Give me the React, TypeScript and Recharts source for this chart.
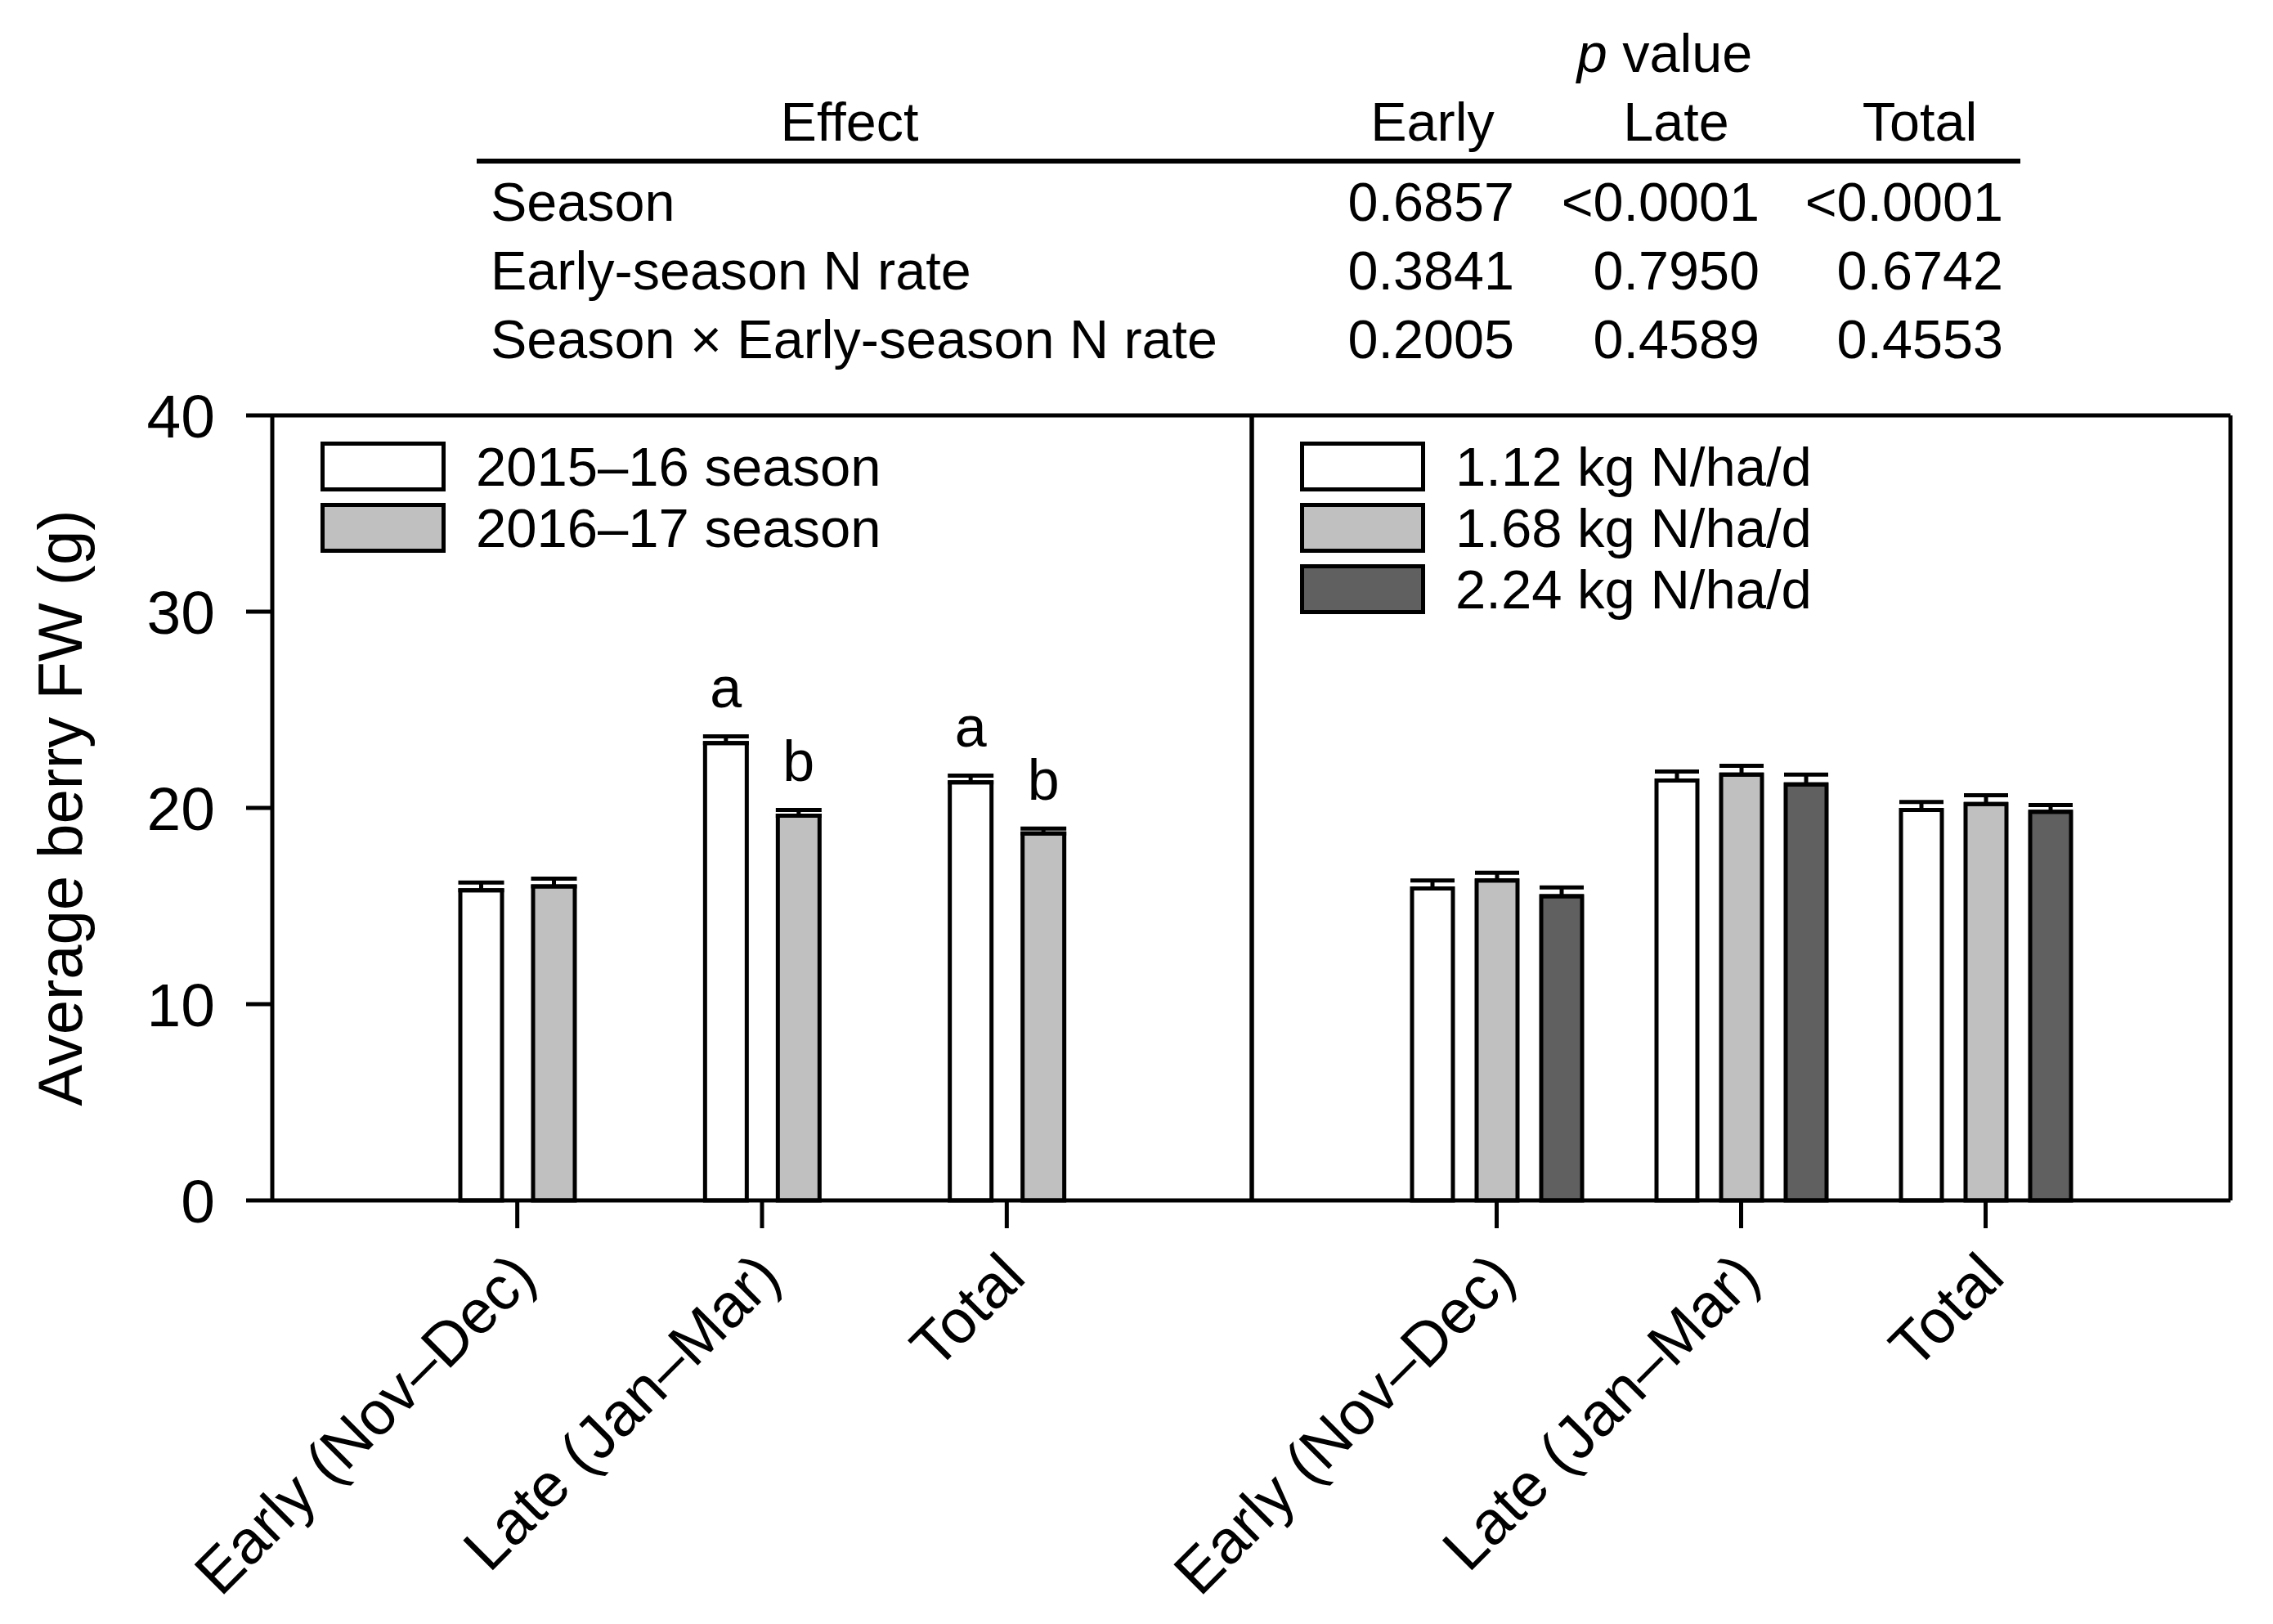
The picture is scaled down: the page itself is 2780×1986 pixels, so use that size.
import React from "react";
import {
  BarChart,
  Bar,
  XAxis,
  YAxis,
  ErrorBar,
  LabelList,
  ReferenceLine,
} from "recharts";

const FONT = '"Liberation Sans", Arial, Helvetica, sans-serif';

// categories on both panels
const categories = ["Early (Nov–Dec)", "Late (Jan–Mar)", "Total"];
const yTicks = [0, 10, 20, 30, 40];

// left panel: season means and SE
const season1516 = [15.8, 23.3, 21.3];
const season1516Err = [0.4, 0.35, 0.35];
const season1617 = [16.0, 19.6, 18.7];
const season1617Err = [0.4, 0.3, 0.25];
const letters1516 = ["", "a", "a"];
const letters1617 = ["", "b", "b"];

// right panel: early-season N rate means and SE
const rate112 = [15.9, 21.4, 19.9];
const rate112Err = [0.4, 0.45, 0.4];
const rate168 = [16.3, 21.7, 20.2];
const rate168Err = [0.4, 0.45, 0.45];
const rate224 = [15.5, 21.2, 19.8];
const rate224Err = [0.45, 0.5, 0.35];

// ANOVA table
const effects = ["Season", "Early-season N rate", "Season × Early-season N rate"];
const pEarly = ["0.6857", "0.3841", "0.2005"];
const pLate = ["<0.0001", "0.7950", "0.4589"];
const pTotal = ["<0.0001", "0.6742", "0.4553"];
const pColumns = ["Early", "Late", "Total"];

const leftData = categories.map((cat, i) => ({
  cat,
  s1516: season1516[i],
  s1516Err: [0, season1516Err[i]],
  s1617: season1617[i],
  s1617Err: [0, season1617Err[i]],
}));

const rightData = categories.map((cat, i) => ({
  cat,
  r112: rate112[i],
  r112Err: [0, rate112Err[i]],
  r168: rate168[i],
  r168Err: [0, rate168Err[i]],
  r224: rate224[i],
  r224Err: [0, rate224Err[i]],
}));

const WHITE = "#ffffff";
const LIGHT = "#c0c0c0";
const DARK = "#606060";

const TABLE_FS = 66.5;
const LEGEND_FS = 67;

function AngledTick(props: any) {
  const { x, y, payload } = props;
  const tx = x + 26;
  const ty = y + 63;
  return (
    <text
      x={tx}
      y={ty}
      transform={`rotate(-45, ${tx}, ${ty})`}
      textAnchor="end"
      fontSize={75}
      fontFamily={FONT}
      fill="#000"
    >
      {payload.value}
    </text>
  );
}

function letterContent(letters: string[], errs: number[]) {
  return (props: any) => {
    const { x, y, width, height, index, value } = props;
    const txt = letters[index];
    if (!txt) return null;
    const capY = y - (errs[index] * height) / value;
    return (
      <text
        x={x + width / 2}
        y={capY - 35}
        textAnchor="middle"
        fontSize={70}
        fontFamily={FONT}
        fill="#000"
      >
        {txt}
      </text>
    );
  };
}

function LegendBox({ left, top, items }: { left: number; top: number; items: { label: string; color: string }[] }) {
  return (
    <div style={{ position: "absolute", left, top, fontFamily: FONT, fontSize: LEGEND_FS }}>
      {items.map((it) => (
        <div key={it.label} style={{ display: "flex", alignItems: "center", height: 75 }}>
          <div
            style={{
              width: 143,
              height: 51,
              border: "5px solid #000",
              background: it.color,
              boxSizing: "content-box",
            }}
          />
          <span style={{ marginLeft: 37, lineHeight: "75px", whiteSpace: "nowrap" }}>{it.label}</span>
        </div>
      ))}
    </div>
  );
}

const axisLine = { stroke: "#000", strokeWidth: 5 };

export default function App() {
  const rowY = [270, 354, 438];
  const colRight = [1852, 2152, 2450];
  const colCenter = [1752, 2050, 2348];
  return (
    <div style={{ position: "relative", width: 2780, height: 1986, background: "#fff" }}>
      <style>{`body{margin:0;}`}</style>

      <svg
        width={2780}
        height={1986}
        style={{ position: "absolute", left: 0, top: 0 }}
        fontFamily={FONT}
        fill="#000"
      >
        <text x={2036} y={88} textAnchor="middle" fontSize={TABLE_FS}>
          <tspan fontStyle="italic">p</tspan> value
        </text>
        <text x={1039} y={172} textAnchor="middle" fontSize={TABLE_FS}>
          Effect
        </text>
        {pColumns.map((c, i) => (
          <text key={c} x={colCenter[i]} y={172} textAnchor="middle" fontSize={TABLE_FS}>
            {c}
          </text>
        ))}
        <line x1={583} x2={2471} y1={197} y2={197} stroke="#000" strokeWidth={6} />
        {effects.map((e, i) => (
          <g key={e}>
            <text x={600} y={rowY[i]} fontSize={TABLE_FS}>
              {e}
            </text>
            <text x={colRight[0]} y={rowY[i]} textAnchor="end" fontSize={TABLE_FS}>
              {pEarly[i]}
            </text>
            <text x={colRight[1]} y={rowY[i]} textAnchor="end" fontSize={TABLE_FS}>
              {pLate[i]}
            </text>
            <text x={colRight[2]} y={rowY[i]} textAnchor="end" fontSize={TABLE_FS}>
              {pTotal[i]}
            </text>
          </g>
        ))}
        <text
          x={100}
          y={988}
          transform="rotate(-90, 100, 988)"
          textAnchor="middle"
          fontSize={76}
        >
          Average berry FW (g)
        </text>
      </svg>

      <div style={{ position: "absolute", left: 0, top: 0 }}>
        <BarChart
          width={1600}
          height={1986}
          data={leftData}
          margin={{ top: 508, right: 59, left: 183, bottom: 218 }}
          barSize={51}
          barGap={38}
        >
          <XAxis
            dataKey="cat"
            height={300}
            padding={{ left: 150, right: 150 }}
            axisLine={axisLine}
            tickLine={axisLine}
            tickSize={34}
            tickMargin={0}
            interval={0}
            tick={<AngledTick />}
          />
          <YAxis
            width={150}
            domain={[0, 40]}
            ticks={yTicks}
            interval={0}
            axisLine={axisLine}
            tickLine={axisLine}
            tickSize={32}
            tickMargin={38}
            tick={{ fontSize: 75, fontFamily: FONT, fill: "#000" }}
          />
          <YAxis
            yAxisId="frame"
            orientation="right"
            width={10}
            domain={[0, 40]}
            axisLine={axisLine}
            tick={false}
            tickLine={false}
          />
          <ReferenceLine y={40} stroke="#000" strokeWidth={5} />
          <Bar dataKey="s1516" fill={WHITE} stroke="#000" strokeWidth={5} isAnimationActive={false}>
            <ErrorBar dataKey="s1516Err" direction="y" width={28} stroke="#000" strokeWidth={5} />
            <LabelList dataKey="s1516" content={letterContent(letters1516, season1516Err)} />
          </Bar>
          <Bar dataKey="s1617" fill={LIGHT} stroke="#000" strokeWidth={5} isAnimationActive={false}>
            <ErrorBar dataKey="s1617Err" direction="y" width={28} stroke="#000" strokeWidth={5} />
            <LabelList dataKey="s1617" content={letterContent(letters1617, season1617Err)} />
          </Bar>
        </BarChart>
      </div>

      <div style={{ position: "absolute", left: 1400, top: 0 }}>
        <BarChart
          width={1380}
          height={1986}
          data={rightData}
          margin={{ top: 508, right: 42, left: 121, bottom: 218 }}
          barSize={50}
          barGap={29}
        >
          <XAxis
            dataKey="cat"
            height={300}
            padding={{ left: 150, right: 150 }}
            axisLine={axisLine}
            tickLine={axisLine}
            tickSize={34}
            tickMargin={0}
            interval={0}
            tick={<AngledTick />}
          />
          <YAxis
            width={10}
            domain={[0, 40]}
            ticks={yTicks}
            interval={0}
            axisLine={axisLine}
            tickLine={axisLine}
            tickSize={-33}
            tick={false}
          />
          <YAxis
            yAxisId="frame"
            orientation="right"
            width={10}
            domain={[0, 40]}
            axisLine={axisLine}
            tick={false}
            tickLine={false}
          />
          <ReferenceLine y={40} stroke="#000" strokeWidth={5} />
          <Bar dataKey="r112" fill={WHITE} stroke="#000" strokeWidth={5} isAnimationActive={false}>
            <ErrorBar dataKey="r112Err" direction="y" width={27} stroke="#000" strokeWidth={5} />
          </Bar>
          <Bar dataKey="r168" fill={LIGHT} stroke="#000" strokeWidth={5} isAnimationActive={false}>
            <ErrorBar dataKey="r168Err" direction="y" width={27} stroke="#000" strokeWidth={5} />
          </Bar>
          <Bar dataKey="r224" fill={DARK} stroke="#000" strokeWidth={5} isAnimationActive={false}>
            <ErrorBar dataKey="r224Err" direction="y" width={27} stroke="#000" strokeWidth={5} />
          </Bar>
        </BarChart>
      </div>

      <LegendBox
        left={392}
        top={533}
        items={[
          { label: "2015–16 season", color: WHITE },
          { label: "2016–17 season", color: LIGHT },
        ]}
      />
      <LegendBox
        left={1590}
        top={533}
        items={[
          { label: "1.12 kg N/ha/d", color: WHITE },
          { label: "1.68 kg N/ha/d", color: LIGHT },
          { label: "2.24 kg N/ha/d", color: DARK },
        ]}
      />
    </div>
  );
}
